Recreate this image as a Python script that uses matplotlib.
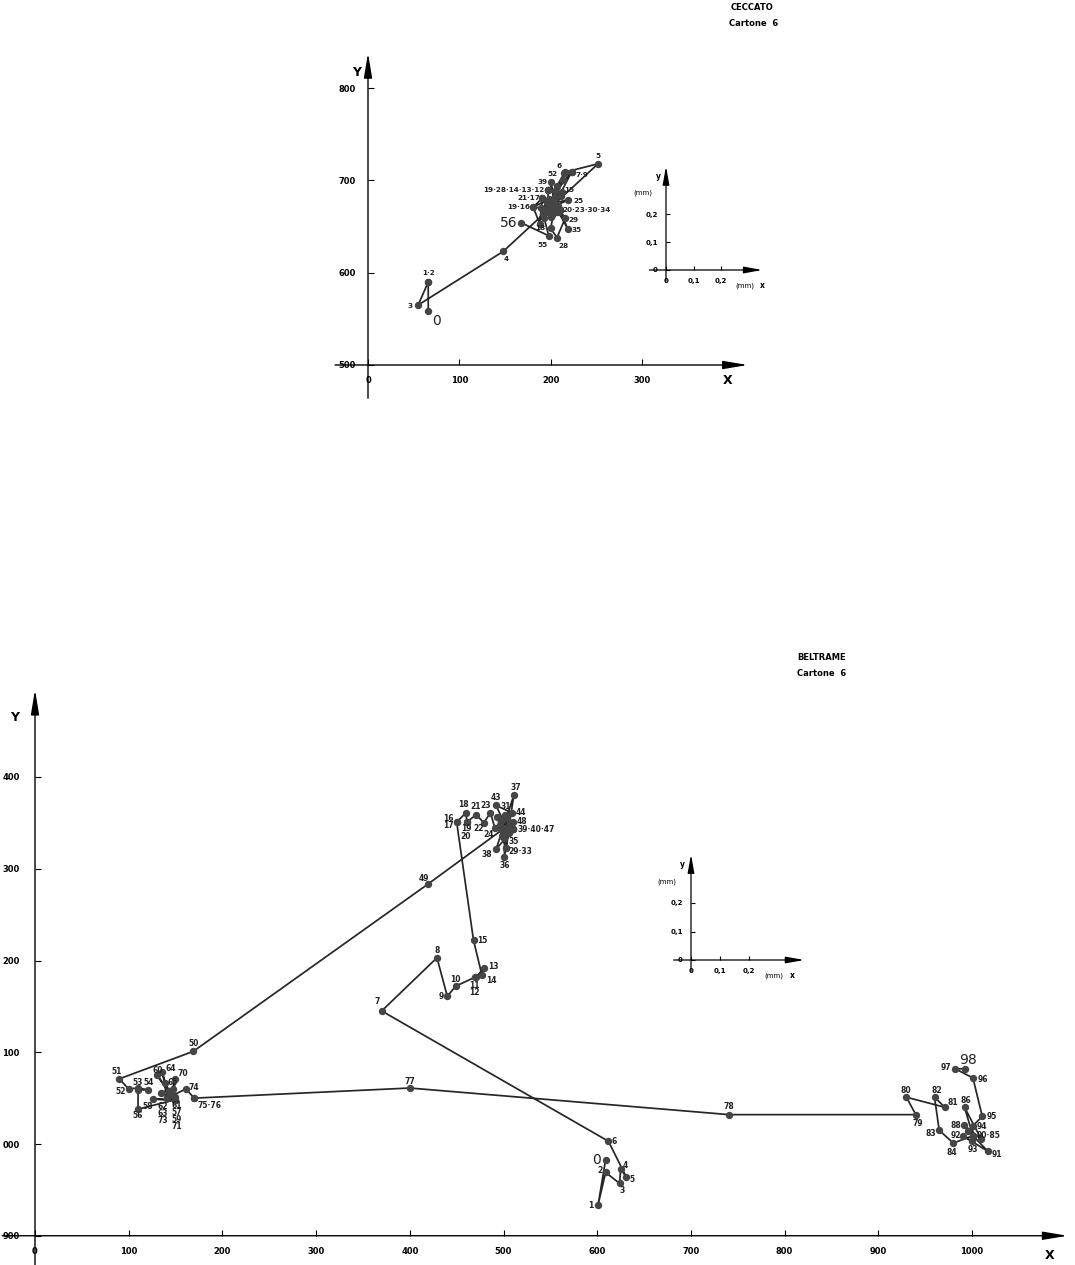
import matplotlib.pyplot as plt
from matplotlib import font_manager

names = {f.name for f in font_manager.fontManager.ttflist}
FONT = 'Liberation Sans Narrow' if 'Liberation Sans Narrow' in names else 'DejaVu Sans'
plt.rcParams['font.family'] = [FONT, 'DejaVu Sans']

W, H = 1075, 1265

# ---- CECCATO, Cartone 6 : trajectory points 0..56 ----
top_x = [66, 66, 66, 55, 148, 252, 216, 223, 205, 223,
         205, 198, 197, 197, 197, 212, 181, 191, 188, 181,
         210, 191, 200, 210, 202, 219, 205, 200, 207, 216,
         210, 196, 208, 192, 210, 219, 203, 198, 206, 200,
         204, 194, 208, 201, 190, 211, 202, 196, 209, 205,
         214, 207, 215, 203, 193, 198, 168]
top_y = [558, 590, 590, 565, 623, 718, 709, 709, 688, 709,
         675, 668, 690, 690, 690, 687, 671, 681, 653, 671,
         668, 681, 660, 668, 675, 679, 672, 648, 638, 659,
         668, 666, 670, 664, 668, 647, 676, 680, 666, 698,
         679, 668, 672, 662, 670, 683, 671, 676, 666, 682,
         700, 694, 708, 678, 659, 640, 654]
top_lab_text = ['0', '1·2', '3', '4', '5', '6', '52', '7·9', '39', '15',
                '19·28·14·13·12', '21·17', '25', '19·16', '20·23·30·34',
                '29', '35', '56', '18', '55', '28']
top_lab_idx = [0, 1, 3, 4, 5, 6, 52, 7, 39, 15, 12, 17, 25, 16, 20,
               29, 35, 56, 18, 55, 28]

# ---- BELTRAME, Cartone 6 : trajectory points 0..98 ----
bot_x = [609, 601, 609, 624, 625, 631, 612, 370, 429, 440,
         449, 470, 471, 479, 477, 468, 450, 450, 460, 461,
         461, 471, 479, 486, 491, 497, 505, 493, 500, 503,
         496, 502, 507, 503, 498, 501, 501, 511, 492, 510,
         510, 499, 506, 492, 509, 497, 504, 510, 510, 419,
         169, 90, 100, 110, 121, 110, 110, 149, 126, 149,
         130, 149, 141, 141, 136, 139, 145, 149, 134, 147,
         149, 149, 143, 141, 161, 170, 170, 400, 741, 940,
         930, 971, 960, 965, 980, 1001, 992, 1010, 991, 996,
         1001, 1017, 990, 1000, 1001, 1011, 1001, 982, 992]
bot_y = [-17, -66, -31, -43, -27, -36, 3, 145, 203, 161,
         172, 182, 182, 192, 184, 222, 351, 351, 361, 351,
         351, 359, 350, 361, 344, 352, 346, 356, 340, 323,
         348, 359, 350, 323, 336, 334, 313, 380, 321, 343,
         343, 354, 339, 369, 361, 343, 355, 343, 351, 283,
         101, 71, 60, 61, 59, 59, 38, 48, 49, 48,
         75, 51, 50, 50, 78, 66, 55, 48, 56, 60,
         71, 48, 58, 50, 60, 50, 50, 61, 32, 32,
         51, 40, 51, 15, 1, 9, 40, 5, 21, 14,
         9, -8, 9, 3, 20, 30, 72, 82, 82]
bot_lab_text = ['0', '1', '2', '3', '4', '5', '6', '7', '8', '9', '10', '11', '12',
                '13', '14', '15', '16', '17', '18', '19', '20', '21', '22', '23',
                '43', '31', '37', '44', '48', '39·40·47', '24', '35', '29·33',
                '38', '36', '49', '50', '51', '52', '53', '54', '56', '58', '60',
                '64', '65', '70', '74', '75·76', '62', '63', '73', '61', '57',
                '59', '71', '77', '78', '79', '80', '81', '82', '83', '84', '86',
                '88', '92', '93', '94', '90·85', '91', '95', '96', '97', '98']
bot_lab_idx = [0, 1, 2, 3, 4, 5, 6, 7, 8, 9, 10, 11, 12,
               13, 14, 15, 16, 17, 18, 19, 20, 21, 22, 23,
               43, 31, 37, 44, 48, 39, 24, 35, 29,
               38, 36, 49, 50, 51, 52, 53, 54, 56, 58, 60,
               64, 65, 70, 74, 75, 62, 63, 73, 61, 57,
               59, 71, 77, 78, 79, 80, 81, 82, 83, 84, 86,
               88, 92, 93, 94, 90, 91, 95, 96, 97, 98]

top_xticks, top_xtick_labels = [0, 100, 200, 300], ['0', '100', '200', '300']
top_yticks, top_ytick_labels = [500, 600, 700, 800], ['500', '600', '700', '800']
bot_xticks = [0, 100, 200, 300, 400, 500, 600, 700, 800, 900, 1000]
bot_xtick_labels = ['0', '100', '200', '300', '400', '500', '600', '700', '800', '900', '1000']
bot_yticks = [-100, 0, 100, 200, 300, 400]
bot_ytick_labels = ['900', '000', '100', '200', '300', '400']
mm_ticks, mm_labels = [0, 0.1, 0.2], ['0', '0,1', '0,2']

# label offsets in pixels (dx, dy, ha)
top_lab_off = [(8, -10, 'center'), (0, 9, 'center'), (-8, -1, 'center'), (3, -8, 'center'),
               (0, 8, 'center'), (-6, 6, 'center'), (-12, -1, 'center'), (4, -3, 'left'),
               (-8, 0, 'center'), (3, 2, 'left'), (-3, 0, 'right'), (-2, 0, 'right'),
               (5, -1, 'left'), (-3, 0, 'right'), (3, 0, 'left'), (3, -2, 'left'),
               (4, -1, 'left'), (-4, 0, 'right'), (1, -4, 'center'), (-6, -9, 'center'),
               (7, -8, 'center')]
bot_lab_off = [(-5, 0, 'right'), (-7, -1, 'center'), (-6, 2, 'center'), (2, -7, 'center'),
               (5, 3, 'center'), (6, -2, 'center'), (6, 0, 'center'), (-5, 9, 'center'),
               (0, 7, 'center'), (-6, 0, 'center'), (0, 7, 'center'), (-1, -8, 'center'),
               (-2, -15, 'center'), (4, 1, 'left'), (4, -5, 'left'), (4, 0, 'left'),
               (-8, 3, 'center'), (-8, -4, 'center'), (-3, 8, 'center'), (-1, -7, 'center'),
               (-1, -15, 'center'), (-1, 8, 'center'), (-5, -6, 'center'), (-5, 7, 'center'),
               (0, 8, 'center'), (0, 8, 'center'), (2, 8, 'center'), (4, 0, 'left'),
               (4, 0, 'left'), (5, 0, 'left'), (-6, -6, 'center'), (4, -4, 'left'),
               (2, -4, 'left'), (-9, -5, 'center'), (0, -9, 'center'), (-4, 6, 'center'),
               (0, 8, 'center'), (-3, 7, 'center'), (-8, -3, 'center'), (0, 6, 'center'),
               (0, 7, 'center'), (0, -6, 'center'), (-5, -7, 'center'), (1, 5, 'center'),
               (8, 4, 'center'), (2, 1, 'left'), (3, 5, 'left'), (3, 1, 'left'),
               (3, -7, 'left'), (-4, -8, 'center'), (-4, -15, 'center'), (-4, -22, 'center'),
               (2, -8, 'center'), (2, -13, 'center'), (2, -20, 'center'), (2, -27, 'center'),
               (0, 7, 'center'), (0, 8, 'center'), (2, -9, 'center'), (-1, 7, 'center'),
               (3, 5, 'left'), (2, 7, 'center'), (-8, -3, 'center'), (-1, -9, 'center'),
               (1, 7, 'center'), (-8, -1, 'center'), (-7, 0, 'center'), (1, -8, 'center'),
               (4, -1, 'left'), (4, 0, 'left'), (4, -3, 'left'), (4, 0, 'left'),
               (5, -2, 'left'), (-4, 1, 'right'), (3, 9, 'center')]
top_big = {'0', '56'}
bot_big = {'0', '98'}

LINE = '#262626'
DOT = '#454545'

fig = plt.figure(figsize=(W / 100, H / 100), dpi=100)
fig.patch.set_facecolor('white')


def make_axes(x0, y0, sx, sy, xlim, ylim):
    # data -> pixel: px = x0 + sx*X, py = y0 - sy*Y
    left = (x0 + sx * xlim[0]) / W
    right = (x0 + sx * xlim[1]) / W
    top = (y0 - sy * ylim[1]) / H
    bottom = (y0 - sy * ylim[0]) / H
    ax = fig.add_axes([left, 1 - bottom, right - left, bottom - top])
    ax.set_xlim(xlim)
    ax.set_ylim(ylim)
    ax.patch.set_alpha(0)
    for s in ax.spines.values():
        s.set_visible(False)
    return ax


def draw_frame(ax, ox, oy, xspan, yspan, lw, hl, hw):
    arrow = dict(arrowstyle=f'-|>,head_length={hl},head_width={hw}', lw=lw,
                 color='black', shrinkA=0, shrinkB=0)
    ax.annotate('', xy=(xspan[1], oy), xytext=(xspan[0], oy),
                arrowprops=arrow, annotation_clip=False)
    ax.annotate('', xy=(ox, yspan[1]), xytext=(ox, yspan[0]),
                arrowprops=arrow, annotation_clip=False)
    ax.spines['left'].set_position(('data', ox))
    ax.spines['bottom'].set_position(('data', oy))


def draw_path(ax, xs, ys, texts, idx, offs, fs, big_set):
    ax.plot(xs, ys, '-', color=LINE, lw=1.25, marker='o', ms=4.3,
            mfc=DOT, mec=DOT, clip_on=False, zorder=3)
    for t, i, (dx, dy, ha) in zip(texts, idx, offs):
        big = t in big_set
        ax.annotate(t, (xs[i], ys[i]), xytext=(dx, dy), textcoords='offset pixels',
                    ha=ha, va='center', fontsize=10 if big else fs,
                    weight='normal' if big else 'bold', color='#222222',
                    annotation_clip=False, zorder=4)


def tick_style(ax, fs, pad_x, pad_y, length):
    ax.tick_params(axis='both', direction='in', length=length, width=0.8,
                   labelsize=fs, colors='black')
    ax.tick_params(axis='x', pad=pad_x)
    ax.tick_params(axis='y', pad=pad_y)
    for lab in ax.get_xticklabels() + ax.get_yticklabels():
        lab.set_fontweight('bold')


# ---------------- top chart ----------------
ax1 = make_axes(368, 826.5, 0.913, 0.923, (-40, 420), (460, 850))
draw_frame(ax1, 0, 500, (-36, 416), (464, 838), 1.0, 1.5, 0.25)
ax1.set_xticks(top_xticks, top_xtick_labels)
ax1.set_yticks(top_yticks, top_ytick_labels)
tick_style(ax1, 6, 8, 9, 4)
draw_path(ax1, top_x, top_y, top_lab_text, top_lab_idx, top_lab_off, 5.2, top_big)
ax1.text(-12, 817, 'Y', fontsize=9, weight='bold', ha='center', va='center')
ax1.text(394, 483, 'X', fontsize=9, weight='bold', ha='center', va='center')

# ---------------- bottom chart ----------------
ax2 = make_axes(35, 1144, 0.937, 0.9175, (-30, 1100), (-130, 500))
draw_frame(ax2, 0, -100, (-35, 1102), (-132, 495), 1.0, 1.5, 0.25)
ax2.set_xticks(bot_xticks, bot_xtick_labels)
ax2.set_yticks(bot_yticks, bot_ytick_labels)
tick_style(ax2, 6, 8, 11, 4)
draw_path(ax2, bot_x, bot_y, bot_lab_text, bot_lab_idx, bot_lab_off, 5.5, bot_big)
ax2.text(-22, 465, 'Y', fontsize=9, weight='bold', ha='center', va='center')
ax2.text(1083, -122, 'X', fontsize=9, weight='bold', ha='center', va='center')

# ---------------- mm scale insets ----------------
for (ox, oy, sx, sy, xlim, ylim) in [(666, 270, 275, 280, (-0.06, 0.36), (-0.05, 0.38)),
                                      (691, 960, 290, 285, (-0.06, 0.40), (-0.05, 0.38))]:
    ax = make_axes(ox, oy, sx, sy, xlim, ylim)
    draw_frame(ax, 0, 0, (xlim[0], xlim[1] - 0.01), (-0.04, ylim[1] - 0.01), 0.9, 1.1, 0.2)
    ax.set_xticks(mm_ticks, mm_labels)
    ax.set_yticks(mm_ticks, mm_labels)
    tick_style(ax, 5, 6, 6, 3)
    ax.text(-0.05, 0.275, '(mm)', fontsize=5, ha='right', va='center')
    ax.text(-0.02, 0.335, 'y', fontsize=5.5, ha='right', va='center', weight='bold')
    ax.text(0.285, -0.055, '(mm)', fontsize=5, ha='center', va='center')
    ax.text(0.35, -0.055, 'x', fontsize=5.5, ha='center', va='center', weight='bold')

# titles
fig.text(752 / W, 1 - 8 / H, 'CECCATO', fontsize=6, weight='bold', ha='center', va='center')
fig.text(754 / W, 1 - 24 / H, 'Cartone  6', fontsize=6, weight='bold', ha='center', va='center')
fig.text(822 / W, 1 - 658 / H, 'BELTRAME', fontsize=6, weight='bold', ha='center', va='center')
fig.text(822 / W, 1 - 673 / H, 'Cartone  6', fontsize=6, weight='bold', ha='center', va='center')

fig.savefig('out.png', dpi=100, facecolor='white')
